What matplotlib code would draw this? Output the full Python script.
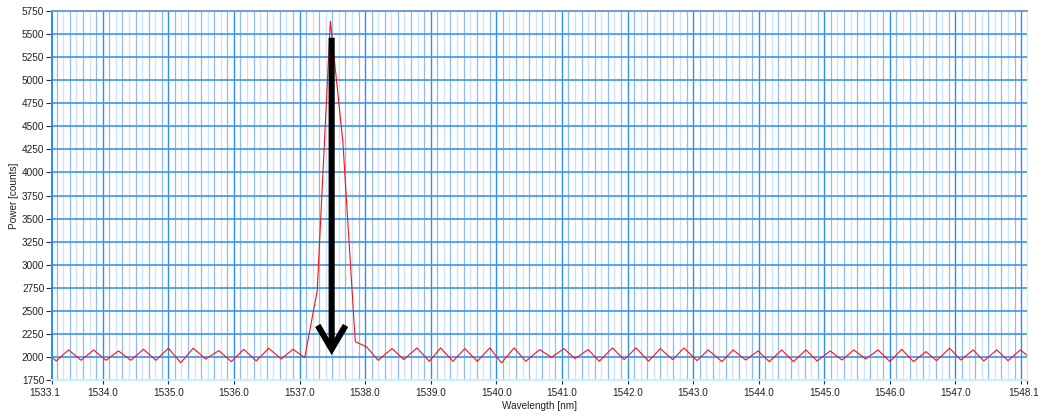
"""Spectrometer trace with the emission peak marked by an arrow (LabVIEW-style grid)."""

import matplotlib

matplotlib.use("Agg")
import matplotlib.pyplot as plt
import matplotlib.transforms as mtransforms
import numpy as np

# Trace samples
wavelength_nm = [
    1533.10, 1533.29, 1533.48, 1533.67, 1533.86, 1534.05, 1534.24, 1534.43,
    1534.62, 1534.81, 1535.00, 1535.19, 1535.38, 1535.57, 1535.77, 1535.96,
    1536.15, 1536.34, 1536.53, 1536.72, 1536.90, 1537.08, 1537.27, 1537.47,
    1537.66, 1537.85, 1538.02, 1538.20, 1538.41, 1538.59, 1538.79, 1538.98,
    1539.15, 1539.34, 1539.52, 1539.71, 1539.90, 1540.08, 1540.27, 1540.45,
    1540.66, 1540.84, 1541.03, 1541.20, 1541.40, 1541.57, 1541.77, 1541.95,
    1542.13, 1542.32, 1542.50, 1542.69, 1542.86, 1543.06, 1543.23, 1543.44,
    1543.61, 1543.80, 1543.99, 1544.16, 1544.35, 1544.53, 1544.72, 1544.89,
    1545.09, 1545.27, 1545.45, 1545.63, 1545.82, 1546.00, 1546.18, 1546.36,
    1546.55, 1546.71, 1546.91, 1547.08, 1547.27, 1547.43, 1547.63, 1547.80,
    1547.99, 1548.18,
]
power_counts = [
    2080, 1957, 2076, 1964, 2076, 1964, 2065, 1964,
    2083, 1964, 2094, 1938, 2094, 1978, 2069, 1949,
    2083, 1957, 2094, 1978, 2083, 1993, 2720, 5640,
    4340, 2165, 2110, 1964, 2091, 1971, 2098, 1953,
    2098, 1953, 2090, 1953, 2098, 1935, 2098, 1953,
    2080, 1996, 2090, 1982, 2080, 1953, 2098, 1971,
    2098, 1953, 2090, 1971, 2098, 1960, 2076, 1949,
    2076, 1967, 2065, 1949, 2076, 1949, 2076, 1957,
    2065, 1967, 2076, 1978, 2076, 1949, 2083, 1949,
    2058, 1960, 2094, 1967, 2076, 1957, 2076, 1960,
    2076, 1965,
]

x_range = (1533.227, 1548.09)
y_range = (1750, 5750)
x_tick_values = [1533.227] + [float(v) for v in range(1534, 1549)] + [1548.09]
x_tick_labels = ["1533.1"] + [f"{v}.0" for v in range(1534, 1548)] + ["", "1548.1"]
y_tick_values = list(range(1750, 5751, 250))

# arrow marking the peak
arrow_x = 1537.49
arrow_top = 5460
arrow_tip = 2020

GRID_MAJOR = "#2f8ff0"
GRID_MINOR_A = "#8fbaf3"
GRID_MINOR_B = "#cfe1fb"


def create_figure() -> None:
    plt.rcParams.update(
        {
            "font.family": ["Liberation Sans", "DejaVu Sans"],
            "font.size": 7.2,
        }
    )
    fig = plt.figure(figsize=(10.42, 4.2), dpi=100)
    ax = fig.add_axes([52 / 1042, 40 / 420, 975 / 1042, 369 / 420])

    ax.set_xlim(*x_range)
    ax.set_ylim(*y_range)

    # minor vertical grid every 0.1 nm, alternating shades
    minor = np.round(np.arange(1533.3, 1548.05, 0.1), 1)
    minor = minor[np.abs(minor - np.round(minor)) > 0.01]
    shade = [GRID_MINOR_A if int(round(m * 10)) % 2 else GRID_MINOR_B for m in minor]
    ax.vlines(minor, *y_range, colors=shade, linewidth=0.9, zorder=0)

    # major grid
    for xv in range(1534, 1549):
        ax.axvline(xv, color=GRID_MAJOR, linewidth=1.0, zorder=0.5)
    for yv in y_tick_values[1:-1]:
        ax.axhline(yv, color="#3a95ee", linewidth=1.2, zorder=0.5)

    ax.plot(wavelength_nm, power_counts, color="#ff1010", linewidth=0.8, zorder=2)

    ax.annotate(
        "",
        xy=(arrow_x, arrow_tip),
        xytext=(arrow_x, arrow_top),
        arrowprops=dict(
            arrowstyle="->,head_length=0.85,head_width=0.5",
            lw=4.4,
            color="black",
            shrinkA=0,
            shrinkB=0,
            mutation_scale=20,
            capstyle="butt",
            joinstyle="miter",
        ),
        zorder=3,
    )

    ax.set_xticks(x_tick_values)
    ax.set_xticklabels(x_tick_labels)
    ax.set_yticks(y_tick_values)
    ax.set_yticklabels([str(v) for v in y_tick_values])
    ax.tick_params(axis="x", length=3, width=0.8, color="#333333", pad=3, labelcolor="#222222")
    ax.tick_params(axis="y", length=4, width=0.8, color="#333333", pad=1.5, labelcolor="#222222")

    # edge labels sit slightly inside like in the original display
    off = mtransforms.ScaledTranslation(-0.07, 0, fig.dpi_scale_trans)
    labels = ax.get_xticklabels()
    labels[0].set_transform(labels[0].get_transform() + off)
    off2 = mtransforms.ScaledTranslation(-0.035, 0, fig.dpi_scale_trans)
    labels[-1].set_transform(labels[-1].get_transform() + off2)

    ax.set_xlabel("Wavelength [nm]", labelpad=2, color="#222222")
    ax.set_ylabel("Power [counts]", labelpad=2, color="#222222")

    ax.spines["left"].set_color("#1e8fff")
    ax.spines["left"].set_linewidth(1.4)
    ax.spines["top"].set_color("#6f9fd0")
    ax.spines["top"].set_linewidth(1.4)
    ax.spines["right"].set_color("#c4f0ff")
    ax.spines["bottom"].set_color("#c4f0ff")
    ax.spines["bottom"].set_linewidth(1.4)

    fig.savefig("out.png", dpi=100)
    plt.close(fig)


if __name__ == "__main__":
    create_figure()
